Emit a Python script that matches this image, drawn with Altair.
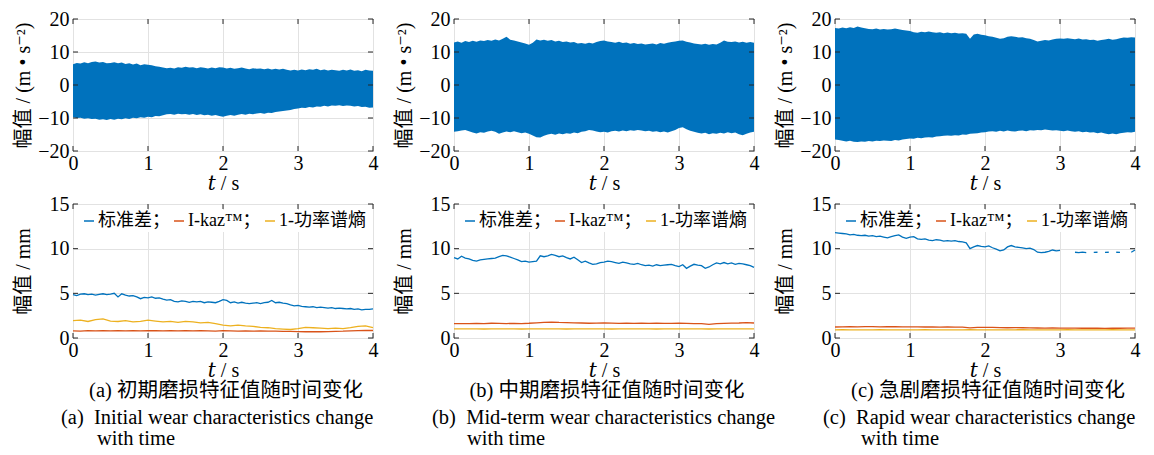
import altair as alt
import pandas as pd

# ---------------- data ----------------
T81 = [i / 20 for i in range(81)]
T41 = [i / 10 for i in range(41)]
XTICKS = [0, 1, 2, 3, 4]
YTICKS_TOP = [-20, -10, 0, 10, 20]
YTICKS_BOT = [0, 5, 10, 15]
SERIES = ["标准差；", "I-kaz™；", "1-功率谱熵"]
COLORS = ["#0072BD", "#D95319", "#EDB120"]

A_UP = [6.3, 6.7, 6.5, 6.9, 6.6, 7.0, 7.1, 6.8, 7.0, 6.6,
        6.7, 6.9, 6.6, 6.8, 6.4, 6.6, 6.2, 6.5, 6.0, 6.3,
        6.1, 6.0, 5.7, 5.5, 5.3, 5.1, 5.2, 5.0, 5.4, 5.2,
        5.5, 5.3, 5.4, 5.1, 5.4, 5.2, 5.0, 5.3, 5.1, 5.4,
        5.3, 5.0, 5.2, 4.9, 5.1, 5.3, 5.0, 4.8, 5.1, 4.9,
        5.0, 4.8, 5.0, 4.7, 4.9, 4.7, 4.9, 4.6, 4.4, 4.6,
        4.4, 4.7, 4.5, 4.8, 4.6, 4.9, 4.5, 4.7, 4.4, 4.6,
        4.5, 4.3, 4.6, 4.4, 4.7, 4.3, 4.5, 4.2, 4.6, 4.4,
        4.3]
A_LO = [-9.8, -10.0, -9.9, -10.2, -10.1, -10.3, -10.2, -10.5, -10.4, -10.6,
        -10.3, -10.5, -10.2, -10.4, -10.1, -10.3, -9.9, -10.1, -9.8, -9.9,
        -9.6, -9.8, -9.4, -9.5, -9.2, -8.9, -8.8, -9.0, -8.7, -8.9,
        -8.8, -9.0, -8.8, -9.1, -8.9, -9.2, -9.0, -9.3, -9.1, -9.4,
        -9.6, -9.3, -9.1, -9.3, -9.0, -8.8, -9.0, -8.7, -8.9, -8.6,
        -8.5, -8.7, -8.4, -8.5, -8.2, -8.0, -7.9, -7.7, -7.6, -7.3,
        -7.1, -6.9, -7.0, -6.7, -6.8, -6.5, -6.6, -6.3, -6.5, -6.2,
        -6.3, -6.1, -6.4, -6.2, -6.3, -6.5, -6.4, -6.7, -6.6, -6.9,
        -6.8]
B_UP = [12.9, 13.2, 12.8, 13.3, 13.0, 13.4, 13.1, 13.5, 13.3, 13.6,
        13.4, 13.8, 13.5, 14.0, 14.6, 13.7, 13.5, 13.2, 12.9, 12.6,
        12.2, 12.8, 13.8, 13.5, 13.7, 13.4, 13.6, 13.2, 13.4, 13.0,
        13.2, 12.9, 13.0, 12.6, 12.7, 12.5, 12.8, 12.6, 13.0, 13.3,
        13.5, 13.2, 13.0, 12.8, 13.1, 12.7, 12.9, 12.5, 12.7, 12.4,
        12.6, 12.3, 12.4, 12.6, 12.3, 12.7, 12.5, 12.8, 13.0, 13.2,
        13.4, 13.5, 13.1, 12.9, 12.6, 12.4, 12.3, 12.5, 12.2, 12.4,
        12.3, 12.8, 13.5, 13.1, 13.0, 13.2, 12.9, 13.1, 12.8, 13.0,
        12.8]
B_LO = [-14.2, -14.0, -13.8, -13.6, -14.0, -14.4, -14.7, -14.3, -14.5, -14.1,
        -13.9, -14.2, -14.8, -14.4, -14.1, -14.3, -14.0, -14.3, -14.6, -14.4,
        -14.8, -15.3, -15.8, -15.9, -15.4, -15.0, -14.8, -15.1, -14.7, -14.9,
        -14.6, -14.8, -14.4, -14.6, -14.2, -14.0, -13.6, -13.8, -14.1, -14.3,
        -14.2, -14.4, -14.0, -13.9, -14.1, -13.8, -14.0, -13.7, -13.9, -13.6,
        -13.8, -14.0, -13.9, -14.2, -14.0, -14.3, -14.1, -14.4, -14.0, -13.6,
        -13.0, -12.8, -13.4, -13.9, -14.2, -14.5, -14.7, -14.5, -14.9, -14.6,
        -14.8, -14.5, -14.7, -14.3, -14.6, -14.4, -14.9, -15.2, -14.8, -14.4,
        -14.2]
C_UP = [17.3, 17.1, 17.4, 17.2, 17.5, 17.3, 17.7, 17.4, 17.2, 17.0,
        16.9, 17.1, 16.8, 17.0, 16.8, 16.9, 17.1, 16.9, 16.7, 16.5,
        16.4, 16.0, 15.8, 16.1, 16.0, 16.2, 16.0, 15.8, 16.0, 15.7,
        15.9, 15.7, 15.8, 15.6, 15.7, 15.5, 14.0, 15.3, 15.5, 15.2,
        15.1, 14.8, 14.6, 14.3, 14.0, 14.2, 14.6, 14.8, 14.6, 14.4,
        14.5, 14.2, 14.0, 13.6, 13.2, 13.4, 13.6, 13.5, 13.8, 14.0,
        14.1, 14.0, 14.2, 14.0, 13.9, 14.1, 13.8, 13.9, 13.6, 13.7,
        13.4, 13.6, 13.8, 14.0, 13.7, 13.9, 14.2, 14.4, 14.3, 14.5,
        14.4]
C_LO = [-16.5, -16.7, -16.9, -17.1, -16.9, -17.2, -17.3, -17.1, -17.2, -17.0,
        -17.1, -16.9, -17.0, -16.8, -16.9, -17.0, -16.7, -16.8, -16.5, -16.4,
        -16.2, -16.3, -16.0, -16.1, -15.9, -15.8, -15.9, -15.6, -15.5, -15.4,
        -15.3, -15.4, -15.2, -15.3, -15.0, -15.1, -14.8, -14.7, -14.6, -14.4,
        -14.3, -14.1, -14.0, -14.2, -13.9, -14.1, -13.8, -14.0, -14.1, -13.9,
        -13.8, -14.0, -13.7, -13.8, -13.6, -13.7, -13.5, -13.6, -13.8, -13.7,
        -13.9, -14.0, -13.8, -14.0, -14.2, -14.0, -14.3, -14.2, -14.4, -14.3,
        -14.6, -14.4, -14.7, -14.9, -14.7, -14.9, -14.6, -14.5, -14.3, -14.4,
        -14.2]

A_STD = [4.85, 4.75, 4.9, 4.95, 4.85, 4.9, 4.8, 4.88, 4.95, 4.85,
         4.9, 5.0, 4.6, 4.95, 4.8, 4.7, 4.75, 4.6, 4.4, 4.55,
         4.5, 4.6, 4.45, 4.5, 4.35, 4.25, 4.3, 4.1, 4.05, 4.15,
         4.1, 4.0, 4.1, 4.05, 4.1, 3.95, 4.05, 4.0, 3.95, 4.1,
         4.3, 4.2, 3.95, 4.05, 3.9, 4.0, 3.9, 3.85, 3.9, 3.95,
         3.85, 3.95, 4.0, 4.2, 3.95, 4.0, 3.9, 3.85, 3.7, 3.6,
         3.65, 3.55, 3.5, 3.45, 3.5, 3.4, 3.45, 3.4, 3.35, 3.4,
         3.3, 3.35, 3.3, 3.25, 3.3, 3.2, 3.25, 3.15, 3.2, 3.2,
         3.25]
A_IKAZ = [0.8, 0.78, 0.82, 0.8, 0.83, 0.8, 0.82, 0.79, 0.82, 0.8,
          0.83, 0.81, 0.8, 0.82, 0.79, 0.81, 0.8, 0.82, 0.8, 0.78,
          0.82, 0.8, 0.78, 0.8, 0.77, 0.79, 0.76, 0.78, 0.75, 0.74,
          0.72, 0.7, 0.72, 0.7, 0.72, 0.74, 0.76, 0.8, 0.82, 0.85,
          0.84]
A_PSE = [1.95, 2.0, 1.85, 2.05, 2.15, 1.9, 1.85, 1.95, 1.8, 1.85,
         2.0, 1.9, 1.8, 1.85, 1.75, 1.85, 1.8, 1.7, 1.75, 1.6,
         1.45, 1.35, 1.45, 1.35, 1.3, 1.2, 1.15, 1.05, 1.0, 0.95,
         1.05, 1.2, 1.15, 1.1, 1.05, 1.1, 1.05, 1.15, 1.3, 1.35,
         1.15]

B_STD = [9.0, 8.85, 9.15, 8.95, 8.85, 8.7, 8.6, 8.75, 8.8, 8.85,
         8.9, 8.95, 9.1, 9.25, 9.2, 9.05, 8.9, 8.75, 8.55, 8.6,
         8.5, 8.55, 8.6, 9.2, 9.1, 9.2, 9.35, 9.25, 9.1, 9.2,
         9.0, 8.85, 9.05, 8.75, 8.45, 8.6, 8.4, 8.25, 8.3, 8.45,
         8.5, 8.6, 8.55, 8.45, 8.35, 8.5, 8.4, 8.3, 8.25, 8.35,
         8.2, 8.1, 8.15, 8.05, 8.2, 8.1, 8.15, 8.2, 8.25, 8.1,
         8.0, 8.2, 7.8, 8.05, 8.25, 8.15, 8.1, 7.8, 7.95, 8.2,
         8.4, 8.3, 8.45, 8.3, 8.4, 8.25, 8.35, 8.3, 8.2, 8.1,
         7.9]
B_IKAZ = [1.6, 1.62, 1.6, 1.63, 1.62, 1.65, 1.63, 1.62, 1.64, 1.62,
          1.65, 1.7, 1.75, 1.78, 1.74, 1.72, 1.7, 1.68, 1.65, 1.66,
          1.68, 1.67, 1.64, 1.65, 1.63, 1.66, 1.64, 1.65, 1.63, 1.64,
          1.66, 1.64, 1.62, 1.6, 1.52, 1.6, 1.64, 1.66, 1.68, 1.72,
          1.68]
B_PSE = [1.02, 1.03, 1.02, 1.02, 1.01, 1.02, 1.03, 1.02, 1.02, 1.01,
         1.02, 1.02, 1.03, 1.02, 1.02, 1.01, 1.02, 1.02, 1.03, 1.02,
         1.02, 1.01, 1.02, 1.02, 1.02, 1.03, 1.02, 1.01, 1.02, 1.02,
         1.02, 1.03, 1.02, 1.02, 1.01, 1.02, 1.02, 1.03, 1.02, 1.02,
         1.02]

C_STD = [11.8, 11.75, 11.7, 11.65, 11.55, 11.6, 11.5, 11.45, 11.5, 11.4,
         11.45, 11.35, 11.4, 11.3, 11.2, 11.35, 11.45, 11.55, 11.3, 11.15,
         11.3, 11.35, 11.1, 11.05, 11.1, 10.95, 10.9, 11.0, 10.95, 10.85,
         10.9, 10.85, 10.9, 10.8, 10.75, 10.65, 10.0, 10.2, 10.35, 10.25,
         10.2, 10.3, 10.1, 9.95, 9.75, 9.85, 10.2, 10.35, 10.2, 10.15,
         10.1, 10.0, 10.05, 9.9, 9.6, 9.55, 9.6, 9.7, 9.85, 9.75,
         9.8, None, None, None, 9.6, 9.55, 9.62, 9.55, None, 9.58,
         9.6, None, 9.58, 9.6, None, 9.6, 9.58, None, None, 9.6,
         9.85]
C_IKAZ = [1.23, 1.25, 1.27, 1.25, 1.28, 1.27, 1.25, 1.27, 1.26, 1.25,
          1.24, 1.25, 1.23, 1.24, 1.22, 1.23, 1.21, 1.22, 1.13, 1.19,
          1.2, 1.18, 1.17, 1.15, 1.17, 1.15, 1.14, 1.12, 1.11, 1.12,
          1.1, 1.11, 1.1, 1.09, 1.1, 1.09, 1.08, 1.1, 1.09, 1.11,
          1.1]
C_PSE = [0.92, 0.93, 0.92, 0.92, 0.91, 0.92, 0.93, 0.92, 0.92, 0.91,
         0.92, 0.92, 0.93, 0.92, 0.92, 0.91, 0.92, 0.92, 0.93, 0.92,
         0.92, 0.91, 0.92, 0.92, 0.92, 0.93, 0.92, 0.91, 0.92, 0.92,
         0.92, 0.93, 0.92, 0.92, 0.91, 0.92, 0.92, 0.93, 0.92, 0.92,
         0.92]

CAP_CN = ["(a) 初期磨损特征值随时间变化", "(b) 中期磨损特征值随时间变化", "(c) 急剧磨损特征值随时间变化"]
CAP_EN = ["(a)\u00a0 Initial wear characteristics change",
          "(b)\u00a0 Mid-term wear characteristics change",
          "(c)\u00a0 Rapid wear characteristics change"]
CAP_EN2 = "with time"
TITLE_X = "𝑡 / s"
TITLE_Y_TOP = "幅值 / (m • s⁻²)"
TITLE_Y_BOT = "幅值 / mm"

# ---------------- style ----------------
FONT = "Liberation Serif, DejaVu Serif, Noto Sans CJK SC"
INK = "#262626"
GRID = "#e2e2e2"
W = 300
H_TOP = 132
H_BOT = 134
XS = alt.Scale(domain=[0, 4], nice=False, zero=False)
YS_TOP = alt.Scale(domain=[-20, 20], nice=False)
YS_BOT = alt.Scale(domain=[0, 15], nice=False)


def xaxis():
    return alt.Axis(values=XTICKS, format="d", title=TITLE_X, grid=True, gridColor=GRID,
                    ticks=False, domain=False, labelFlush=False, labelPadding=2,
                    labelFont=FONT, labelFontSize=20, labelColor="black",
                    titleFont=FONT, titleFontSize=20, titleFontWeight="normal",
                    titleColor="black", titleY=22, titleBaseline="top")


def yaxis(vals, title, h):
    return alt.Axis(values=vals, format="d", title=title, grid=True, gridColor=GRID,
                    ticks=False, domain=False, labelPadding=4,
                    labelFont=FONT, labelFontSize=20, labelColor="black",
                    titleFont=FONT, titleFontSize=20, titleFontWeight="normal",
                    titleColor="black", titleAngle=270, titleX=-40, titleY=h / 2,
                    titleAlign="center", titleBaseline="bottom")


def frame_ticks(yvals, yscale, yax, h):
    dy = pd.DataFrame({"v": yvals})
    dx = pd.DataFrame({"v": XTICKS})
    ys = alt.Y("v:Q", scale=yscale, axis=yax)
    xs = alt.X("v:Q", scale=XS, axis=xaxis())
    r = dict(color=INK, strokeWidth=1)
    return [
        alt.Chart(dy).mark_rule(**r).encode(y=ys, x=alt.value(0), x2=alt.value(5)),
        alt.Chart(dy).mark_rule(**r).encode(y=ys, x=alt.value(W), x2=alt.value(W - 5)),
        alt.Chart(dx).mark_rule(**r).encode(x=xs, y=alt.value(h), y2=alt.value(h - 5)),
        alt.Chart(dx).mark_rule(**r).encode(x=xs, y=alt.value(0), y2=alt.value(5)),
    ]


def top_chart(up, lo):
    df = pd.DataFrame({"t": T81, "upper": up, "lower": lo})
    yax = yaxis(YTICKS_TOP, TITLE_Y_TOP, H_TOP)
    area = alt.Chart(df).mark_area(color=COLORS[0], opacity=1).encode(
        x=alt.X("t:Q", scale=XS, axis=xaxis()),
        y=alt.Y("upper:Q", scale=YS_TOP, axis=yax),
        y2="lower:Q",
    )
    return alt.layer(area, *frame_ticks(YTICKS_TOP, YS_TOP, yax, H_TOP)).properties(
        width=W, height=H_TOP)


def bottom_chart(std, ikaz, pse):
    rows = []
    seg = 0
    for t, v in zip(T81, std):
        if v is None:
            seg += 1
            continue
        rows.append({"t": t, "value": v, "series": SERIES[0], "seg": seg})
    for name, vals in ((SERIES[1], ikaz), (SERIES[2], pse)):
        for t, v in zip(T41, vals):
            rows.append({"t": t, "value": v, "series": name, "seg": 0})
    df = pd.DataFrame(rows)
    yax = yaxis(YTICKS_BOT, TITLE_Y_BOT, H_BOT)
    lines = alt.Chart(df).mark_line(strokeWidth=1.3).encode(
        x=alt.X("t:Q", scale=XS, axis=xaxis()),
        y=alt.Y("value:Q", scale=YS_BOT, axis=yax),
        color=alt.Color("series:N", scale=alt.Scale(domain=SERIES, range=COLORS), title=None,
                        legend=alt.Legend(orient="none", legendX=5, legendY=6,
                                          direction="horizontal", symbolType="stroke",
                                          symbolSize=100, symbolStrokeWidth=1.5,
                                          labelFont=FONT, labelFontSize=18, labelColor="black",
                                          labelOffset=0, columnPadding=0, padding=2,
                                          fillColor="white", labelLimit=300)),
        detail="seg:N",
        order="t:Q",
    )
    return alt.layer(lines, *frame_ticks(YTICKS_BOT, YS_BOT, yax, H_BOT)).properties(
        width=W, height=H_BOT)


def caption_chart(cn, en, en_x, wt_x):
    base = alt.Chart(pd.DataFrame({"k": [0]}))
    common = dict(font=FONT, color="black", baseline="middle")
    l1 = base.mark_text(align="center", fontSize=20.5, **common).encode(
        text=alt.value(cn), x=alt.value(153), y=alt.value(0))
    l2 = base.mark_text(align="left", fontSize=20.5, **common).encode(
        text=alt.value(en), x=alt.value(en_x), y=alt.value(27))
    l3 = base.mark_text(align="left", fontSize=20.5, **common).encode(
        text=alt.value(CAP_EN2), x=alt.value(wt_x), y=alt.value(48))
    return alt.layer(l1, l2, l3).properties(width=W, height=40,
                                            view=alt.ViewBackground(strokeOpacity=0))


charts = [
    top_chart(A_UP, A_LO), top_chart(B_UP, B_LO), top_chart(C_UP, C_LO),
    bottom_chart(A_STD, A_IKAZ, A_PSE), bottom_chart(B_STD, B_IKAZ, B_PSE),
    bottom_chart(C_STD, C_IKAZ, C_PSE),
    caption_chart(CAP_CN[0], CAP_EN[0], -12, 24),
    caption_chart(CAP_CN[1], CAP_EN[1], -22, 13),
    caption_chart(CAP_CN[2], CAP_EN[2], -12, 26),
]

chart = alt.concat(*charts, columns=3, spacing=alt.RowColnumber(row=53, column=81),
                   bounds="flush").resolve_scale(color="independent").properties(
    padding={"left": 4, "top": 0, "right": 0, "bottom": 0}
).configure_view(stroke=INK, strokeWidth=1)

chart.save("out.html", embed_options={"renderer": "svg", "actions": False})
